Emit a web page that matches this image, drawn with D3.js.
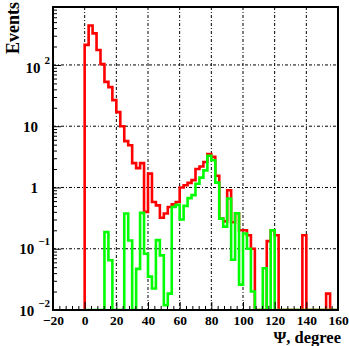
<!DOCTYPE html>
<html>
<head>
<meta charset="utf-8">
<script src="https://cdn.jsdelivr.net/npm/d3@7"></script>
<style>
  body { margin: 0; background: #fff; }
  svg { display: block; }
  text { font-family: "Liberation Serif", "Times New Roman", serif; font-weight: bold; }
</style>
</head>
<body>
<svg id="chart" width="349" height="346"></svg>
<script>
// histogram bins: 2.5 degree wide, starting at 0
const binLow = 0;
const binWidth = 2.5;

// events per bin, red histogram
const redCounts = [
  213, 440, 328, 175, 103, 53, 43.5, 26.7, 17, 10.0,
  5.7, 4.9, 2.5, 2.07, 2.5, 0.40, 1.68, 0.58, 0.51, 0.32,
  0.376, 0.48, 0.53, 0.58, 1.0, 1.09, 1.19, 1.32, 2.0, 2.2,
  2.6, 3.5, 3.16, 1.55, 0.31, 0.28, 0.9, 0.27, 0.38, 0.2,
  0.2, 0.166, 0.1, 0, 0, 0, 0.133, 0.2, 0.166, 0,
  0, 0, 0, 0, 0, 0.166, 0, 0, 0, 0,
  0, 0.0185, 0, 0
];

// events per bin, green histogram
const greenCounts = [
  0, 0, 0, 0, 0, 0.188, 0.065, 0, 0, 0,
  0.376, 0.136, 0, 0.047, 0.385, 0.083, 0.035, 0.0225, 0.138, 0.078,
  0.012, 0.0185, 0.48, 0.52, 0.30, 0.50, 0.67, 0.75, 1.15, 1.45,
  1.9, 3.3, 2.79, 1.2, 0.31, 0.23, 0.66, 0.066, 0.38, 0.026,
  0.177, 0.1, 0.02, 0, 0, 0.048, 0, 0.2, 0, 0,
  0, 0, 0, 0, 0, 0, 0, 0, 0, 0,
  0, 0, 0, 0
];

const xTicks = [-20, 0, 20, 40, 60, 80, 100, 120, 140, 160];
const yTicks = [0.01, 0.1, 1, 10, 100];
const yTickBase = ['10', '10', '1', '10', '10'];
const yTickExp = ['\u22122', '\u22121', '', '', '2'];

const fLeft = 53, fRight = 338, fTop = 7, fBottom = 310;
const svg = d3.select('#chart');

const x = d3.scaleLinear().domain([-20, 160]).range([fLeft, fRight]);
const y = d3.scaleLog().domain([0.01, 883]).range([fBottom, fTop]);

svg.append('defs').append('clipPath').attr('id', 'frame')
  .append('rect')
  .attr('x', fLeft).attr('y', fTop)
  .attr('width', fRight - fLeft).attr('height', fBottom - fTop);

// grid
const grid = svg.append('g')
  .attr('stroke', '#000')
  .attr('stroke-width', 1)
  .attr('stroke-dasharray', '3,2,1,2');
grid.selectAll('line.gx')
  .data(xTicks.filter(d => d > -20 && d < 160))
  .join('line')
  .attr('class', 'gx')
  .attr('x1', d => x(d)).attr('x2', d => x(d))
  .attr('y1', fTop).attr('y2', fBottom);
grid.selectAll('line.gy')
  .data(yTicks.filter(d => d > 0.01))
  .join('line')
  .attr('class', 'gy')
  .attr('x1', fLeft).attr('x2', fRight)
  .attr('y1', d => y(d)).attr('y2', d => y(d));

// histograms
function stepPath(counts) {
  const pts = [[x(binLow), fBottom + 3]];
  counts.forEach((v, i) => {
    const yy = v > 0 ? y(v) : fBottom;
    pts.push([x(binLow + i * binWidth), yy], [x(binLow + (i + 1) * binWidth), yy]);
  });
  pts.push([x(binLow + counts.length * binWidth), fBottom + 3]);
  return d3.line()(pts);
}

const hists = svg.append('g').attr('clip-path', 'url(#frame)');
hists.append('path')
  .attr('d', stepPath(redCounts))
  .attr('fill', 'none')
  .attr('stroke', '#ff0000')
  .attr('stroke-width', 2.6);
hists.append('path')
  .attr('d', stepPath(greenCounts))
  .attr('fill', 'none')
  .attr('stroke', '#00ff00')
  .attr('stroke-width', 2.6);

// axes, ticks pointing into the frame
const xAxis = svg.append('g')
  .attr('transform', `translate(0,${fBottom})`)
  .call(d3.axisBottom(x).tickValues(xTicks).tickSize(-8).tickSizeOuter(0).tickPadding(5)
    .tickFormat(d => d < 0 ? '\u2212' + Math.abs(d) : d));
xAxis.select('.domain').remove();
xAxis.selectAll('text').attr('font-size', 13.5).attr('fill', '#000')
  .style('font-family', '"Liberation Serif", serif').style('font-weight', 'bold');

const xMinor = d3.range(-20, 160, 4).filter(d => (d + 20) % 20 !== 0);
svg.append('g')
  .attr('transform', `translate(0,${fBottom})`)
  .call(d3.axisBottom(x).tickValues(xMinor).tickSize(-4).tickSizeOuter(0).tickFormat(''))
  .select('.domain').remove();

svg.append('g')
  .attr('transform', `translate(${fLeft},0)`)
  .call(d3.axisLeft(y).tickValues(yTicks).tickSize(-8).tickSizeOuter(0).tickFormat(''))
  .select('.domain').remove();

const yMinor = [];
yTicks.slice(0, -1).forEach(d => { for (let k = 2; k <= 9; k++) yMinor.push(d * k); });
yMinor.push(200, 300, 400, 500, 600, 700, 800);
svg.append('g')
  .attr('transform', `translate(${fLeft},0)`)
  .call(d3.axisLeft(y).tickValues(yMinor).tickSize(-4).tickSizeOuter(0).tickFormat(''))
  .select('.domain').remove();

// y labels with exponents
const yLab = svg.append('g').attr('font-size', 15).attr('fill', '#000');
yTicks.forEach((d, i) => {
  const t = yLab.append('text')
    .attr('text-anchor', 'end')
    .attr('x', yTickExp[i] ? 50 : 38)
    .attr('y', y(d) + (d === 100 ? 8 : 5.5));
  t.append('tspan').text(yTickBase[i]);
  if (yTickExp[i]) {
    t.append('tspan').attr('dx', 4).attr('dy', -9).attr('font-size', 11).text(yTickExp[i]);
  }
});

// frame
svg.append('rect')
  .attr('x', fLeft).attr('y', fTop)
  .attr('width', fRight - fLeft).attr('height', fBottom - fTop)
  .attr('fill', 'none')
  .attr('stroke', '#000')
  .attr('stroke-width', 2);

// titles
svg.append('text')
  .attr('transform', 'translate(19,2) rotate(-90)')
  .attr('text-anchor', 'end')
  .attr('font-size', 18)
  .text('Events');
svg.append('text')
  .attr('x', 341).attr('y', 342.5)
  .attr('text-anchor', 'end')
  .attr('font-size', 16.5)
  .text('\u03a8, degree');
</script>
</body>
</html>
